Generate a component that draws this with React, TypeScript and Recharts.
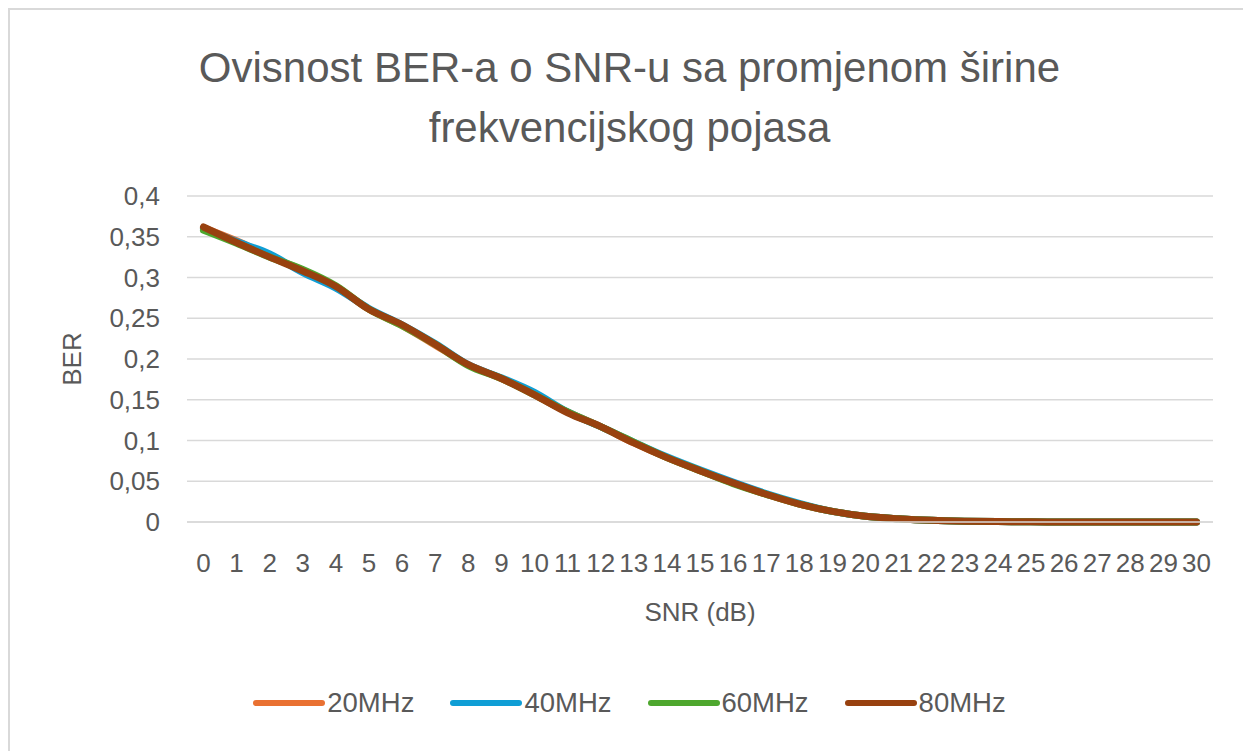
import React from "react";
import { LineChart, Line, XAxis, YAxis, CartesianGrid, Label } from "recharts";

const snr = [0,1,2,3,4,5,6,7,8,9,10,11,12,13,14,15,16,17,18,19,20,21,22,23,24,25,26,27,28,29,30];
const ber20 = [0.361,0.345,0.326,0.309,0.289,0.261,0.241,0.217,0.193,0.176,0.156,0.135,0.117,0.097,0.079,0.063,0.048,0.034,0.022,0.013,0.007,0.004,0.002,0.001,0.0005,0.0002,0.0001,0,0,0,0];
const ber40 = [0.360,0.344,0.329,0.306,0.287,0.262,0.242,0.219,0.193,0.177,0.159,0.135,0.117,0.098,0.080,0.064,0.049,0.035,0.023,0.013,0.007,0.004,0.002,0.001,0.0005,0.0002,0.0001,0,0,0,0];
const ber60 = [0.358,0.342,0.325,0.310,0.290,0.261,0.241,0.218,0.192,0.176,0.156,0.135,0.117,0.098,0.079,0.063,0.047,0.034,0.022,0.013,0.007,0.004,0.002,0.001,0.0005,0.0002,0.0001,0,0,0,0];
const ber80 = [0.362,0.343,0.325,0.308,0.289,0.261,0.242,0.218,0.193,0.176,0.156,0.134,0.117,0.097,0.079,0.063,0.048,0.034,0.022,0.013,0.007,0.004,0.002,0.001,0.0005,0.0002,0.0001,0,0,0,0];
const yTicks = [0,0.05,0.1,0.15,0.2,0.25,0.3,0.35,0.4];

const seriesNames = ["20MHz","40MHz","60MHz","80MHz"];
const seriesColors = ["#E97132","#0F9ED5","#4EA72E","#98410F"];
const titleLines = ["Ovisnost BER-a o SNR-u sa promjenom širine","frekvencijskog pojasa"];

const data = snr.map((s, i) => ({
  snr: s,
  "20MHz": ber20[i],
  "40MHz": ber40[i],
  "60MHz": ber60[i],
  "80MHz": ber80[i],
}));

const FONT = "'Liberation Sans', Arial, sans-serif";
const TXT = "#595959";

export default function App() {
  return (
    <div style={{ position: "relative", width: 1243, height: 745, border: "2px solid #d9d9d9", boxSizing: "border-box", background: "#fff", fontFamily: FONT }}>
      <style>{`html,body{overflow:hidden;}`}</style>
      <div style={{ position: "absolute", left: 0, top: 28, width: 1239, textAlign: "center", fontSize: 42, lineHeight: "60px", color: TXT }}>
        {titleLines.map((t) => (<div key={t}>{t}</div>))}
      </div>
      <div style={{ position: "absolute", left: 0, top: 0 }}>
        <LineChart width={1239} height={741} data={data} margin={{ top: 186, right: 36, left: 0, bottom: 129 }}>
          <CartesianGrid vertical={false} stroke="#d9d9d9" strokeWidth={1.5} />
          <XAxis
            dataKey="snr"
            type="category"
            interval={0}
            padding={{ left: 16.5, right: 16.5 }}
            tickLine={false}
            axisLine={{ stroke: "#d9d9d9", strokeWidth: 1.5 }}
            tickSize={0}
            tickMargin={32}
            height={100}
            tick={{ fill: TXT, fontSize: 26, fontFamily: FONT }}
          >
            <Label value="SNR (dB)" position="insideBottom" offset={1} style={{ fill: TXT, fontSize: 26, fontFamily: FONT }} />
          </XAxis>
          <YAxis
            width={177}
            domain={[0, 0.4]}
            ticks={yTicks}
            interval={0}
            tickLine={false}
            axisLine={false}
            tickSize={0}
            tickMargin={27}
            tickFormatter={(v: number) => String(v).replace(".", ",")}
            tick={{ fill: TXT, fontSize: 26, fontFamily: FONT }}
          >
            <Label
              content={(props: any) => {
                const vb = props.viewBox || { x: 0, y: 186, width: 177, height: 326 };
                const cx = vb.x + 62;
                const cy = vb.y + vb.height / 2;
                return (
                  <text x={cx} y={cy} transform={`rotate(-90 ${cx} ${cy})`} textAnchor="middle" dominantBaseline="central" fill={TXT} fontSize={26} fontFamily={FONT}>BER</text>
                );
              }}
            />
          </YAxis>
          {seriesNames.map((n, i) => (
            <Line key={n} type="monotone" dataKey={n} stroke={seriesColors[i]} strokeWidth={7} strokeLinecap="round" dot={false} activeDot={false} isAnimationActive={false} />
          ))}
        </LineChart>
      </div>
      <div style={{ position: "absolute", left: 0, top: 677, width: 1239, display: "flex", justifyContent: "center", alignItems: "center", fontSize: 27.5, color: TXT, gap: 36 }}>
        {seriesNames.map((n, i) => (
          <div key={n} style={{ display: "flex", alignItems: "center" }}>
            <span style={{ display: "inline-block", width: 72, height: 6, borderRadius: 3, background: seriesColors[i], marginRight: 2 }} />
            <span>{n}</span>
          </div>
        ))}
      </div>
    </div>
  );
}
